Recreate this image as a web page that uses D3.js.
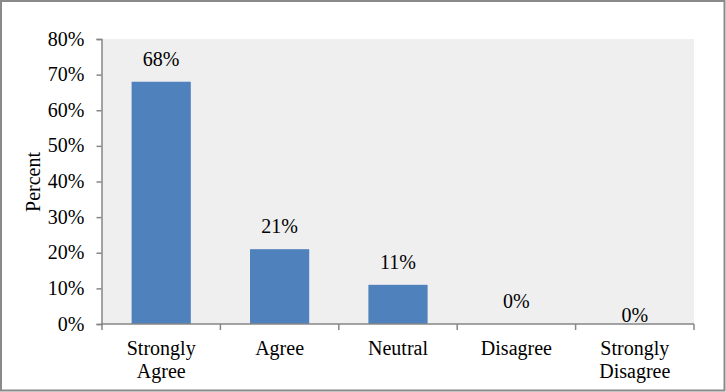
<!DOCTYPE html>
<html><head><meta charset="utf-8">
<script src="https://cdn.jsdelivr.net/npm/d3@7"></script>
<style>body{margin:0;background:#fff}svg{display:block}svg text{font-family:"Liberation Serif",serif !important;fill:#000}</style>
</head><body><svg id="c" width="726" height="392" font-family="Liberation Serif, serif"></svg>
<script>
const categories = [["Strongly","Agree"],["Agree"],["Neutral"],["Disagree"],["Strongly","Disagree"]];
const values = [68, 21, 11, 0, 0];
const yTicks = [0,10,20,30,40,50,60,70,80];

const FONT = "Liberation Serif, serif";
const svg = d3.select("#c");
const W = 726, H = 392;
const m = {l:102, r:32, t:39, b:68};
svg.append("rect").attr("x",1).attr("y",1).attr("width",W-2.5).attr("height",H-2.5)
  .attr("fill","#fff").attr("stroke","#8a8a8a").attr("stroke-width",2);

const x = d3.scaleBand().domain(d3.range(values.length)).range([m.l, W-m.r]).paddingInner(0.5).paddingOuter(0.25);
const y = d3.scaleLinear().domain([0,80]).range([H-m.b, m.t]);

svg.append("rect").attr("x",m.l).attr("y",m.t).attr("width",W-m.r-m.l).attr("height",H-m.b-m.t).attr("fill","#efefef");

svg.selectAll(".bar").data(values).join("rect")
  .attr("x",(d,i)=>x(i)).attr("width",x.bandwidth())
  .attr("y",d=>y(d)).attr("height",d=>y(0)-y(d)).attr("fill","#4f81bd");

svg.selectAll(".lbl").data(values).join("text")
  .attr("font-family",FONT)
  .attr("x",(d,i)=>x(i)+x.bandwidth()/2)
  .attr("y",(d,i)=>y(d)-16 + (i===values.length-1?14:0))
  .attr("text-anchor","middle").attr("font-size",20).text(d=>d+"%");

const ya = d3.axisLeft(y).tickValues(yTicks).tickFormat(d=>d+"%").tickSize(5).tickPadding(12);
const gy = svg.append("g").attr("transform",`translate(${m.l-0.5},0)`).call(ya).attr("font-family",FONT).attr("font-size",20);
gy.selectAll("text").attr("font-size",20).attr("dy","0.3em").attr("font-family",FONT);
gy.selectAll("line,path").attr("stroke","#868686").attr("stroke-width",1.5);

const xb = d3.scaleBand().domain(d3.range(values.length)).range([m.l, W-m.r]);
const gx = svg.append("g").attr("transform",`translate(0,${H-m.b})`);
gx.append("line").attr("x1",m.l-1).attr("x2",W-m.r).attr("stroke","#868686").attr("stroke-width",1.5);
gx.selectAll(".t").data(d3.range(values.length+1)).join("line")
  .attr("x1",i=>i<values.length?xb(i):W-m.r).attr("x2",i=>i<values.length?xb(i):W-m.r)
  .attr("y1",0).attr("y2",6).attr("stroke","#868686").attr("stroke-width",1.5);
gx.selectAll(".c").data(categories).join("text")
  .attr("font-family",FONT)
  .attr("text-anchor","middle").attr("font-size",20)
  .attr("transform",(d,i)=>`translate(${xb(i)+xb.bandwidth()/2},0)`)
  .selectAll("tspan").data(d=>d).join("tspan")
  .attr("x",0).attr("y",(d,j)=>31+j*23).text(d=>d);

svg.append("text").attr("font-family",FONT).attr("transform","translate(40,182) rotate(-90)").attr("text-anchor","middle").attr("font-size",20).text("Percent");
</script></body></html>
